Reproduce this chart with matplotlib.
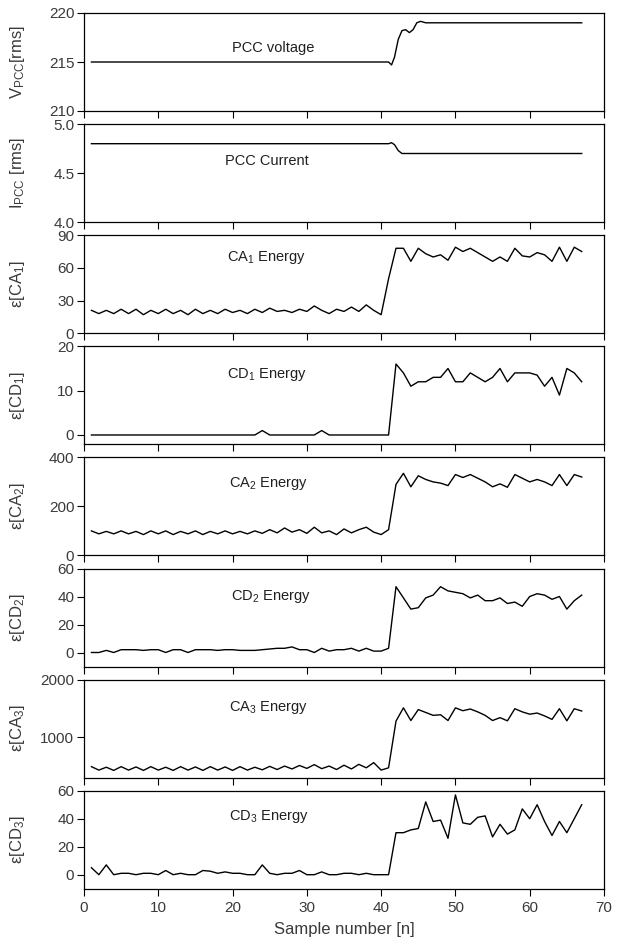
import matplotlib
matplotlib.use("Agg")
import matplotlib.pyplot as plt
import numpy as np

plt.rcParams['font.family'] = ['Liberation Sans', 'DejaVu Sans']
plt.rcParams['mathtext.default'] = 'regular'

# ---------------- data ----------------
n = list(range(1, 68))

x_v = [1, 41, 41.4, 41.8, 42.3, 42.8, 43.3, 43.8, 44.3, 44.8, 45.3, 46, 67]
v_pcc = [215, 215, 214.7, 215.5, 217.3, 218.2, 218.3, 218.0, 218.3, 219.0, 219.15, 219, 219]

x_i = [1, 41, 41.4, 41.8, 42.3, 42.8, 43.2, 67]
i_pcc = [4.8, 4.8, 4.81, 4.79, 4.73, 4.70, 4.70, 4.70]

ca1 = [21, 18, 21, 18, 22, 18, 22, 17, 21, 18, 22, 18, 21, 17, 22, 18, 21, 18, 22, 19,
       21, 18, 22, 19, 23, 20, 21, 19, 22, 20, 25, 21, 18, 22, 20, 24, 20, 26, 21, 17,
       50, 78, 78, 66, 78, 73, 70, 72, 67, 79, 75, 78, 74, 70, 66, 70, 66, 78, 71, 70,
       74, 72, 66, 79, 66, 79, 75]

cd1 = [0] * 23 + [1] + [0] * 7 + [1] + [0] * 9 + \
      [16, 14, 11, 12, 12, 13, 13, 15, 12, 12, 14, 13, 12, 13, 15, 12, 14, 14, 14,
       13.5, 11, 13, 9, 15, 14, 12]

ca2 = [100, 88, 98, 88, 100, 88, 98, 85, 100, 88, 100, 85, 98, 88, 100, 85, 98, 88, 100, 88,
       98, 88, 100, 90, 105, 92, 112, 95, 105, 90, 115, 92, 100, 85, 108, 92, 105, 115, 95, 85,
       105, 290, 335, 280, 325, 310, 300, 295, 285, 330, 318, 330, 315, 300, 280, 292, 278,
       330, 315, 300, 310, 300, 285, 330, 285, 330, 320]

cd2 = [0, 0, 1.5, 0, 2, 2, 2, 1.5, 2, 2, 0, 2, 2, 0, 2, 2, 2, 1.5, 2, 2,
       1.5, 1.5, 1.5, 2, 2.5, 3, 3, 4, 2, 2, 0, 3, 1, 2, 2, 3, 1, 3, 1, 1,
       3, 47, 39, 31, 32, 39, 41, 47, 44, 43, 42, 39, 41, 37, 37, 39, 35, 36, 33, 40,
       42, 41, 38, 40, 31, 37, 41]

ca3 = [490, 430, 480, 425, 490, 430, 485, 425, 490, 430, 480, 425, 490, 430, 485, 425, 490, 430, 485, 425,
       490, 430, 480, 435, 495, 440, 500, 450, 510, 460, 525, 455, 500, 440, 515, 450, 530, 470, 560, 430,
       470, 1280, 1510, 1290, 1480, 1430, 1380, 1390, 1290, 1510, 1460, 1490, 1440, 1380, 1290, 1340,
       1285, 1495, 1440, 1400, 1420, 1370, 1310, 1495, 1285, 1495, 1455]

cd3 = [5, 0, 7, 0, 1, 1, 0, 1, 1, 0, 3, 0, 1, 0, 0, 3, 2.5, 1, 2, 1,
       1, 0, 0, 7, 1, 0, 1, 1, 3, 0, 0, 2, 0, 0, 1, 1, 0, 1, 0, 0,
       0, 30, 30, 32, 33, 52, 38, 39, 26, 57, 37, 36, 41, 42, 27, 36, 29, 32, 47, 40,
       50, 38, 28, 38, 30, 40, 50]

x_ticks = [0, 10, 20, 30, 40, 50, 60, 70]

panels = [
    dict(x=x_v, y=v_pcc, ylim=(210, 220), yticks=[210, 215, 220], yfmt='{:.0f}',
         ylabel='V$_{PCC}$[rms]', text='PCC voltage', tx=0.363, ty=0.64),
    dict(x=x_i, y=i_pcc, ylim=(4.0, 5.0), yticks=[4.0, 4.5, 5.0], yfmt='{:.1f}',
         ylabel='I$_{PCC}$ [rms]', text='PCC Current', tx=0.352, ty=0.62),
    dict(x=n, y=ca1, ylim=(0, 90), yticks=[0, 30, 60, 90], yfmt='{:.0f}',
         ylabel='ε[CA$_1$]', text='CA$_1$ Energy', tx=0.35, ty=0.77),
    dict(x=n, y=cd1, ylim=(-2.1, 20), yticks=[0, 10, 20], yfmt='{:.0f}',
         ylabel='ε[CD$_1$]', text='CD$_1$ Energy', tx=0.352, ty=0.71),
    dict(x=n, y=ca2, ylim=(0, 400), yticks=[0, 200, 400], yfmt='{:.0f}',
         ylabel='ε[CA$_2$]', text='CA$_2$ Energy', tx=0.355, ty=0.73),
    dict(x=n, y=cd2, ylim=(-10, 60), yticks=[0, 20, 40, 60], yfmt='{:.0f}',
         ylabel='ε[CD$_2$]', text='CD$_2$ Energy', tx=0.36, ty=0.71),
    dict(x=n, y=ca3, ylim=(300, 2000), yticks=[1000, 2000], yfmt='{:.0f}',
         ylabel='ε[CA$_3$]', text='CA$_3$ Energy', tx=0.355, ty=0.72),
    dict(x=n, y=cd3, ylim=(-10, 60), yticks=[0, 20, 40, 60], yfmt='{:.0f}',
         ylabel='ε[CD$_3$]', text='CD$_3$ Energy', tx=0.355, ty=0.735),
]

W, H = 618, 941
fig = plt.figure(figsize=(W / 100, H / 100), dpi=100)

left_px, right_px = 84, 604
top0, step, hpx = 13, 111.1, 98
tick_col = '#3a3a3a'

for k, p in enumerate(panels):
    top = top0 + step * k
    ax = fig.add_axes([left_px / W, 1 - (top + hpx) / H, (right_px - left_px) / W, hpx / H])
    ax.plot(p['x'], p['y'], color='black', lw=1.0)
    ax.set_xlim(0, 70)
    ax.set_ylim(*p['ylim'])
    ax.set_xticks(x_ticks)
    ax.set_yticks(p['yticks'])
    ax.set_yticklabels([p['yfmt'].format(v) for v in p['yticks']])
    ax.tick_params(direction='out', length=5, width=0.8, labelsize=11, colors='black',
                   labelcolor=tick_col, top=False, right=False, pad=2)
    if k < len(panels) - 1:
        ax.tick_params(axis='x', labelbottom=False)
    else:
        ax.tick_params(axis='x', pad=4)
        ax.set_xlabel('Sample number [n]', fontsize=12, color=tick_col, labelpad=5)
    for s in ax.spines.values():
        s.set_linewidth(0.9)
    ax.set_ylabel(p['ylabel'], fontsize=12, color=tick_col)
    ax.yaxis.set_label_coords(-0.11, 0.5)
    ax.text(p['tx'], p['ty'], p['text'], transform=ax.transAxes, fontsize=10.5,
            ha='center', va='center', color='#202020')

fig.savefig('out.png', dpi=100)
